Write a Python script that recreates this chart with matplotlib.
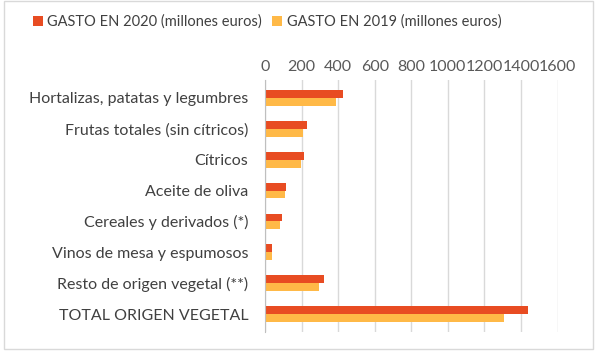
import numpy as np
import matplotlib.pyplot as plt
from matplotlib.patches import Rectangle

categories = [
    "Hortalizas, patatas y legumbres",
    "Frutas totales (sin cítricos)",
    "Cítricos",
    "Aceite de oliva",
    "Cereales y derivados (*)",
    "Vinos de mesa y espumosos",
    "Resto de origen vegetal (**)",
    "TOTAL ORIGEN VEGETAL",
]
gasto_2020 = [427, 232, 215, 117, 93, 38, 321, 1440]
gasto_2019 = [387, 208, 197, 109, 80, 38, 296, 1308]
series_labels = ["GASTO EN 2020 (millones euros)", "GASTO EN 2019 (millones euros)"]
x_ticks = [0, 200, 400, 600, 800, 1000, 1200, 1400, 1600]

c2020 = "#E84C22"
c2019 = "#FFB947"

plt.rcParams['font.family'] = ['Lato', 'DejaVu Sans']

fig = plt.figure(figsize=(6, 3.56), dpi=100)
W, H = 600, 356
ax = fig.add_axes([265 / W, 1 - 332 / H, (557.5 - 265) / W, (332 - 80) / H])

y = np.arange(len(categories))
h = 0.255
ax.barh(y - h / 2, gasto_2020, height=h, color=c2020, label=series_labels[0], zorder=3)
ax.barh(y + h / 2, gasto_2019, height=h, color=c2019, label=series_labels[1], zorder=3)

ax.set_xlim(0, 1600)
ax.set_ylim(len(categories) - 0.5 + 0.08, -0.5 - 0.08)
ax.set_xticks(x_ticks)
ax.xaxis.tick_top()
ax.tick_params(axis='x', length=0, pad=4, labelsize=11.5, labelcolor='#595959')
ax.set_yticks(y)
ax.set_yticklabels(categories)
ax.tick_params(axis='y', length=0, pad=12, labelsize=11.5, labelcolor='#404040')
ax.grid(axis='x', color='#D9D9D9', linewidth=1, zorder=0)
for s in ['top', 'right', 'bottom']:
    ax.spines[s].set_visible(False)
ax.spines['left'].set_color('#BFBFBF')
ax.spines['left'].set_zorder(4)

fig.legend(loc='center', bbox_to_anchor=(0.445, 1 - 22 / H), ncol=2, frameon=False,
           fontsize=10.5, handlelength=0.7, handleheight=0.7, handletextpad=0.3,
           columnspacing=0.7, labelcolor='#404040')

# outer chart border
fig.patches.append(Rectangle((4 / W, 1 - 349 / H), (593 - 4) / W, (349 - 1) / H,
                             transform=fig.transFigure, fill=False,
                             edgecolor='#D9D9D9', linewidth=1))

fig.savefig("out.png", dpi=100)
